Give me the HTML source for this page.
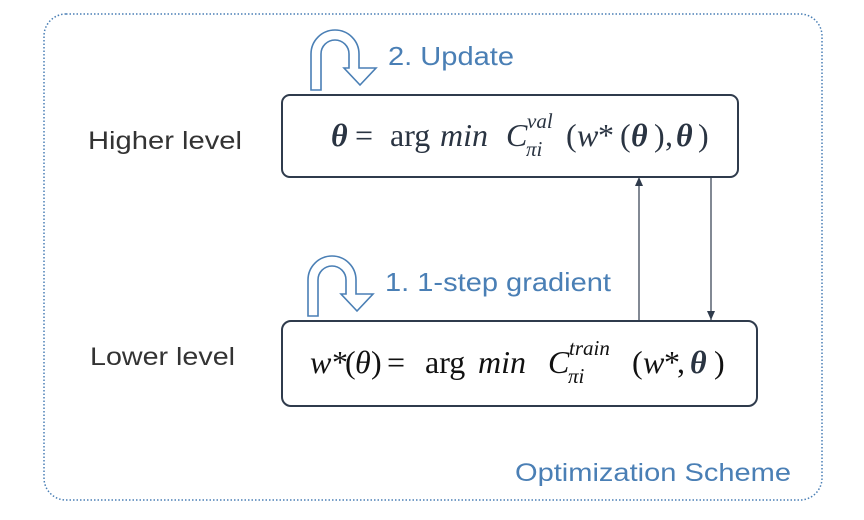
<!DOCTYPE html>
<html><head><meta charset="utf-8"><style>
body{margin:0;background:#fff;}
svg{display:block;font-family:"Liberation Sans","DejaVu Sans",sans-serif;}
.m{font-family:"Liberation Serif","DejaVu Serif",serif;fill:#2a3442;font-size:32px;}
.s{font-size:21px;font-style:italic;}
.i{font-style:italic;}
.b{font-weight:bold;font-style:italic;}
.k{fill:#111;}
</style></head><body>
<svg width="864" height="520" viewBox="0 0 864 520">
<defs><marker id="ad" markerWidth="9" markerHeight="9" refX="9" refY="4" orient="auto" markerUnits="userSpaceOnUse"><path d="M0,0 L9,4 L0,8 z" fill="#2f3b4c"/></marker></defs>
<rect x="44" y="14" width="778" height="486" rx="22" fill="none" stroke="#4a7fb5" stroke-width="1.5" stroke-dasharray="1.5 2"/>
<text x="88" y="149" font-size="25" fill="#333" textLength="154" lengthAdjust="spacingAndGlyphs">Higher level</text>
<text x="90" y="365" font-size="25" fill="#333" textLength="145" lengthAdjust="spacingAndGlyphs">Lower level</text>
<rect x="282" y="95" width="456" height="82" rx="8" fill="#fff" stroke="#2f3b4c" stroke-width="2"/>
<rect x="282" y="321" width="475" height="85" rx="9" fill="#fff" stroke="#2f3b4c" stroke-width="2"/>
<g>
<text class="m b" x="331" y="146">θ</text>
<text class="m" x="355" y="146">=</text>
<text class="m" x="390" y="146">arg</text>
<text class="m i" x="440" y="146">min</text>
<text class="m i" x="506" y="146">C</text>
<text class="m s" x="526" y="156">πi</text>
<text class="m s" x="527" y="128">val</text>
<text class="m" x="566" y="146">(</text>
<text class="m i" x="577" y="146">w</text>
<text class="m" x="598" y="146">*</text>
<text class="m" x="620" y="146">(</text>
<text class="m b" x="631" y="146">θ</text>
<text class="m" x="654" y="146">)</text>
<text class="m" x="665" y="146">,</text>
<text class="m b" x="676" y="146">θ</text>
<text class="m" x="698" y="146">)</text>
</g>
<g>
<text class="m i k" x="310" y="373">w</text>
<text class="m k" x="332" y="373">*</text>
<text class="m k" x="345" y="373">(</text>
<text class="m i k" x="355" y="373">θ</text>
<text class="m k" x="371" y="373">)</text>
<text class="m k" x="387" y="373">=</text>
<text class="m k" x="425" y="373">arg</text>
<text class="m i k" x="478" y="373">min</text>
<text class="m i k" x="548" y="373">C</text>
<text class="m s k" x="568" y="383">πi</text>
<text class="m s k" x="569" y="355">train</text>
<text class="m k" x="632" y="373">(</text>
<text class="m i k" x="643" y="373">w</text>
<text class="m k" x="664" y="373">*</text>
<text class="m k" x="677" y="373">,</text>
<text class="m b" x="690" y="373">θ</text>
<text class="m k" x="714" y="373">)</text>
</g>
<line x1="639" y1="320" x2="639" y2="177" stroke="#2f3b4c" stroke-width="1.2" marker-end="url(#ad)"/>
<line x1="711" y1="177" x2="711" y2="320" stroke="#2f3b4c" stroke-width="1.2" marker-end="url(#ad)"/>
<path d="M311,90 L311,54 A24,24 0 0 1 359,54 L359,68 L376,68 L360,85 L344,68 L349,68 L349,54 A14,14 0 0 0 321,54 L321,90 Z" fill="#fff" stroke="#4a7fb5" stroke-width="1.6"/>
<path d="M308,316 L308,280 A24,24 0 0 1 356,280 L356,294 L373,294 L357,311 L341,294 L346,294 L346,280 A14,14 0 0 0 318,280 L318,316 Z" fill="#fff" stroke="#4a7fb5" stroke-width="1.6"/>
<text x="388" y="65" font-size="26" fill="#4a7fb5" textLength="126" lengthAdjust="spacingAndGlyphs">2. Update</text>
<text x="385" y="291" font-size="26" fill="#4a7fb5" textLength="226" lengthAdjust="spacingAndGlyphs">1. 1-step gradient</text>
<text x="515" y="481" font-size="25" fill="#4a7fb5" textLength="276" lengthAdjust="spacingAndGlyphs">Optimization Scheme</text>
</svg>
</body></html>
